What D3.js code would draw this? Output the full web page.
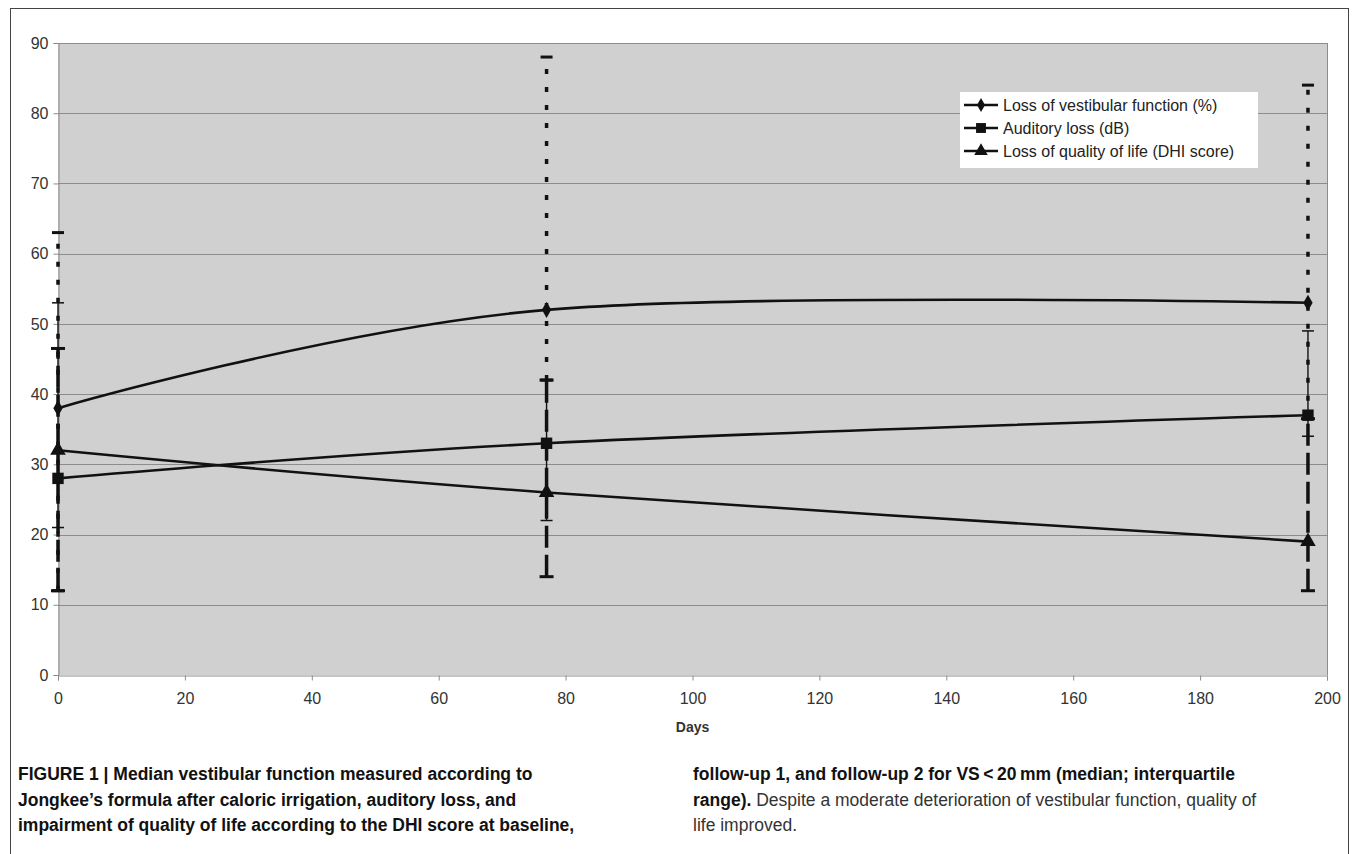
<!DOCTYPE html>
<html>
<head>
<meta charset="utf-8">
<script src="https://cdn.jsdelivr.net/npm/d3@7"></script>
<style>
  html, body { margin: 0; padding: 0; background: #fff; }
  svg { display: block; }
</style>
</head>
<body>
<svg id="chart" width="1356" height="854"></svg>
<script>
// ---- data ----
const days = [0, 77, 197];
const seriesNames = ["Loss of vestibular function (%)", "Auditory loss (dB)", "Loss of quality of life (DHI score)"];
const vestibular = [38, 52, 53];
const vestibularLow = [12, 42, 36.5];
const vestibularHigh = [63, 88, 84];
const auditory = [28, 33, 37];
const auditoryLow = [21, 22, 34];
const auditoryHigh = [53, 42, 49];
const dhi = [32, 26, 19];
const dhiLow = [12, 14, 12];
const dhiHigh = [46.5, 42, 36.5];
const xTicks = [0, 20, 40, 60, 80, 100, 120, 140, 160, 180, 200];
const yTicks = [0, 10, 20, 30, 40, 50, 60, 70, 80, 90];
const xTitle = "Days";
const captionLeft = [
  [{b:true, t:"FIGURE 1 | Median vestibular function measured according to"}],
  [{b:true, t:"Jongkee\u2019s formula after caloric irrigation, auditory loss, and"}],
  [{b:true, t:"impairment of quality of life according to the DHI score at baseline,"}]
];
const captionRight = [
  [{b:true, t:"follow-up 1, and follow-up 2 for VS\u2009<\u200920\u2009mm (median; interquartile"}],
  [{b:true, t:"range)."}, {b:false, t:" Despite a moderate deterioration of vestibular function, quality of"}],
  [{b:false, t:"life improved."}]
];

const svg = d3.select("#chart");
const L = 58, R = 1327, T = 43, B = 675;
const x = d3.scaleLinear().domain([0, 200]).range([L, R]);
const y = d3.scaleLinear().domain([0, 90]).range([B, T]);
const FONT = "Liberation Sans, Arial, sans-serif";

// figure frame
svg.append("rect").attr("x", 10.5).attr("y", 8.5).attr("width", 1338).attr("height", 860)
  .attr("fill", "none").attr("stroke", "#444").attr("stroke-width", 1);

// plot area
svg.append("rect").attr("x", L).attr("y", T).attr("width", R - L).attr("height", B - T)
  .attr("fill", "#d0d0d0");

// gridlines
svg.append("g").selectAll("line").data(yTicks.filter(d => d > 0)).join("line")
  .attr("x1", L).attr("x2", R).attr("y1", d => Math.round(y(d)) + 0.5).attr("y2", d => Math.round(y(d)) + 0.5)
  .attr("stroke", "#8c8c8c").attr("stroke-width", 1);
// right border
svg.append("line").attr("x1", R + 0.5).attr("x2", R + 0.5).attr("y1", T).attr("y2", B)
  .attr("stroke", "#8c8c8c");

// axes
const yAxis = svg.append("g").attr("transform", `translate(${L + 0.5},0)`)
  .call(d3.axisLeft(y).tickValues(yTicks).tickSize(5).tickPadding(5).tickFormat(d3.format("d")));
const xAxis = svg.append("g").attr("transform", `translate(0,${B + 0.5})`)
  .call(d3.axisBottom(x).tickValues(xTicks).tickSize(5).tickPadding(12).tickFormat(d3.format("d")));
[yAxis, xAxis].forEach(a => {
  a.select(".domain").attr("stroke", "#8c8c8c");
  a.selectAll(".tick line").attr("stroke", "#8c8c8c");
  a.selectAll("text").attr("font-family", FONT).attr("font-size", 16).attr("fill", "#333");
});

svg.append("text").attr("x", x(100)).attr("y", 732).attr("text-anchor", "middle")
  .attr("font-family", FONT).attr("font-weight", "bold")
  .attr("font-size", 14).attr("fill", "#333").text(xTitle);

// error bars
function errorBars(low, high, opts) {
  const g = svg.append("g");
  days.forEach((d, i) => {
    const cx = x(d);
    g.append("line").attr("x1", cx).attr("x2", cx).attr("y1", y(low[i])).attr("y2", y(high[i]))
      .attr("stroke", "#111").attr("stroke-width", opts.w).attr("stroke-dasharray", opts.dash);
    [low[i], high[i]].forEach(v => {
      g.append("line").attr("x1", cx - opts.cap).attr("x2", cx + opts.cap)
        .attr("y1", y(v)).attr("y2", y(v)).attr("stroke", "#111").attr("stroke-width", opts.capW);
    });
  });
}
errorBars(dhiLow, dhiHigh, {w: 3.5, dash: "22,7", cap: 7, capW: 3});
errorBars(auditoryLow, auditoryHigh, {w: 1.4, dash: null, cap: 6, capW: 1.5});
errorBars(vestibularLow, vestibularHigh, {w: 3.5, dash: "5,13", cap: 6, capW: 3});

// lines
const line = d3.line().x((d, i) => x(days[i])).y(d => y(d)).curve(d3.curveCardinal.tension(0));
[vestibular, auditory, dhi].forEach(s => {
  svg.append("path").attr("d", line(s)).attr("fill", "none").attr("stroke", "#111").attr("stroke-width", 2.6);
});

// markers
const sym = [d3.symbolDiamond, d3.symbolSquare, d3.symbolTriangle];
const symSize = [75, 130, 105];
[vestibular, auditory, dhi].forEach((s, k) => {
  svg.append("g").selectAll("path").data(s).join("path")
    .attr("transform", (d, i) => `translate(${x(days[i])},${y(d)})`)
    .attr("d", d3.symbol(sym[k], symSize[k])).attr("fill", "#111");
});

// legend
const lg = svg.append("g").attr("transform", "translate(960,92)");
lg.append("rect").attr("width", 298).attr("height", 76).attr("fill", "#fff");
seriesNames.forEach((n, k) => {
  const yy = 13 + k * 23;
  lg.append("line").attr("x1", 4).attr("x2", 38).attr("y1", yy).attr("y2", yy)
    .attr("stroke", "#111").attr("stroke-width", 2.6);
  lg.append("path").attr("transform", `translate(21,${yy})`)
    .attr("d", d3.symbol(sym[k], symSize[k] * 0.75)).attr("fill", "#111");
  lg.append("text").attr("x", 43).attr("y", yy + 6).attr("font-family", FONT)
    .attr("font-size", 16).attr("fill", "#222").text(n);
});

// caption
function caption(lines, x0) {
  lines.forEach((segs, i) => {
    const t = svg.append("text").attr("x", x0).attr("y", 780 + i * 25.5)
      .attr("font-family", FONT)
      .attr("font-size", 17.5).attr("fill", "#111");
    segs.forEach(s => t.append("tspan").attr("font-weight", s.b ? "bold" : "normal")
      .attr("fill", s.b ? "#111" : "#333").text(s.t));
  });
}
caption(captionLeft, 18);
caption(captionRight, 693);
</script>
</body>
</html>
